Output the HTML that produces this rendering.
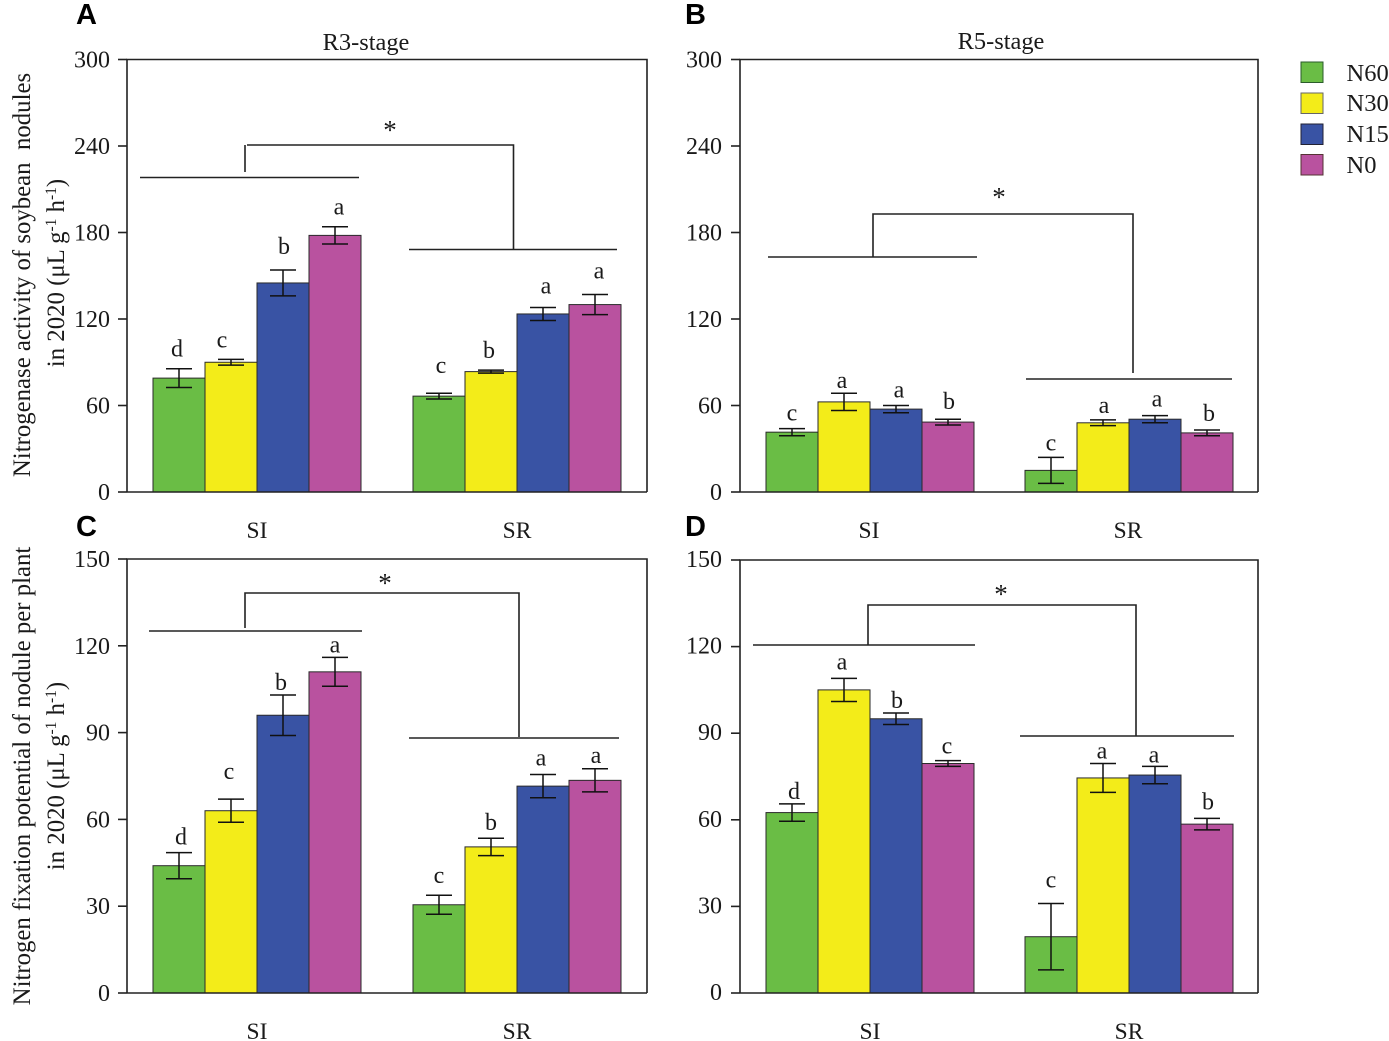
<!DOCTYPE html>
<html>
<head>
<meta charset="utf-8">
<title>Nitrogenase activity and nitrogen fixation potential</title>
<style>
html,body{margin:0;padding:0;background:#fff;}
svg{display:block;font-family:"Liberation Serif",serif;fill:#1a1a1a;}
.panel-letter{font-family:"Liberation Sans",sans-serif;font-weight:700;font-size:29px;fill:#000;}
.tick{font-size:24px;text-anchor:end;}
.cat{font-size:23.5px;text-anchor:middle;}
.ttl{font-size:24.4px;text-anchor:middle;}
.ylab{font-size:24.8px;text-anchor:middle;}
.ltr{font-size:24px;text-anchor:middle;}
.ast{font-size:27px;text-anchor:middle;}
.leg{font-size:24.5px;}
.br{stroke:#222;stroke-width:1.6;fill:none;}
</style>
</head>
<body>
<svg id="chart" xmlns="http://www.w3.org/2000/svg" width="1389" height="1041" viewBox="0 0 1389 1041">
  <text class="panel-letter" x="76" y="24">A</text>
  <text class="panel-letter" x="685" y="24">B</text>
  <text class="panel-letter" x="76" y="536">C</text>
  <text class="panel-letter" x="685" y="536">D</text>

  <text class="ttl" x="366" y="50">R3-stage</text>
  <text class="ttl" x="1001" y="49">R5-stage</text>

  <text class="ylab" transform="translate(30 275) rotate(-90)" xml:space="preserve">Nitrogenase activity of soybean  nodules</text>
  <text class="ylab" transform="translate(64 273) rotate(-90)">in 2020 (μL g<tspan font-size="15.5" dy="-8">-1</tspan><tspan dy="8"> h</tspan><tspan font-size="15.5" dy="-8">-1</tspan><tspan dy="8">)</tspan></text>
  <text class="ylab" transform="translate(30 776) rotate(-90)">Nitrogen fixation potential of nodule per plant</text>
  <text class="ylab" transform="translate(64 776) rotate(-90)">in 2020 (μL g<tspan font-size="15.5" dy="-8">-1</tspan><tspan dy="8"> h</tspan><tspan font-size="15.5" dy="-8">-1</tspan><tspan dy="8">)</tspan></text>

  <g id="panels"></g>

  <g>
    <path class="br" d="M140 177.5H359M245 145V172M247 145H513.5V250M409 249.5H617"/>
    <text class="ast" x="390" y="139">*</text>
  </g>
  <g>
    <path class="br" d="M768 257H977M873 257V214H1133V373M1026 379H1232"/>
    <text class="ast" x="999" y="206">*</text>
  </g>
  <g>
    <path class="br" d="M149 631H362M245 628V593H519V737M409 738H619"/>
    <text class="ast" x="385" y="592">*</text>
  </g>
  <g>
    <path class="br" d="M753 645H975M868 645V605H1136V736M1020 736H1234"/>
    <text class="ast" x="1001" y="603">*</text>
  </g>

  <g>
    <g><rect x="1301" y="62" width="22" height="20.5" fill="#6abd45" stroke="#2b5c2b" stroke-width="1"/><text class="leg" x="1346.5" y="81">N60</text></g>
    <g><rect x="1301" y="93" width="22" height="20.5" fill="#f3ec19" stroke="#666" stroke-width="1"/><text class="leg" x="1346.5" y="111">N30</text></g>
    <g><rect x="1301" y="124" width="22" height="20.5" fill="#3953a4" stroke="#223" stroke-width="1"/><text class="leg" x="1346.5" y="142">N15</text></g>
    <g><rect x="1301" y="154.5" width="22" height="20.5" fill="#b9529f" stroke="#533" stroke-width="1"/><text class="leg" x="1346.5" y="173">N0</text></g>
  </g>
</svg>

<script>
// Categories
const groups = ['SI', 'SR'];
const treatments = ['N60', 'N30', 'N15', 'N0'];
const seriesColors = ['#6abd45', '#f3ec19', '#3953a4', '#b9529f'];

// Tick labels
const ticksTop = [0, 60, 120, 180, 240, 300];
const ticksBottom = [0, 30, 60, 90, 120, 150];

// Panel A: R3-stage nitrogenase activity (SI x4, SR x4)
const valuesA = [79, 90, 145, 178, 66.5, 83.5, 123.5, 130];
const errorsA = [6.5, 2, 9, 6, 2, 1, 4.5, 7];
const lettersA = ['d', 'c', 'b', 'a', 'c', 'b', 'a', 'a'];

// Panel B: R5-stage nitrogenase activity
const valuesB = [41.5, 62.5, 57.5, 48.5, 15, 48, 50.5, 41];
const errorsB = [2.5, 6, 2.5, 2, 9, 2, 2.5, 2];
const lettersB = ['c', 'a', 'a', 'b', 'c', 'a', 'a', 'b'];

// Panel C: R3-stage nitrogen fixation potential
const valuesC = [44, 63, 96, 111, 30.5, 50.5, 71.5, 73.5];
const errorsC = [4.5, 4, 7, 5, 3.3, 3, 4, 4];
const lettersC = ['d', 'c', 'b', 'a', 'c', 'b', 'a', 'a'];

// Panel D: R5-stage nitrogen fixation potential
const valuesD = [62.5, 105, 95, 79.5, 19.5, 74.5, 75.5, 58.5];
const errorsD = [3, 4, 2, 1, 11.5, 5, 3, 2];
const lettersD = ['d', 'a', 'b', 'c', 'c', 'a', 'a', 'b'];

const svgNS = 'http://www.w3.org/2000/svg';
const root = document.getElementById('panels');

function mk(tag, attrs, parent) {
  const e = document.createElementNS(svgNS, tag);
  for (const k in attrs) e.setAttribute(k, attrs[k]);
  parent.appendChild(e);
  return e;
}

function drawPanel(p) {
  const g = mk('g', {}, root);
  
  

  const yMax = p.ticks[p.ticks.length - 1];
  const yScale = v => p.bottom - (v / yMax) * (p.bottom - p.top);
  const barW = p.barW;
  const groupStart = i => p.left + 26 + i * p.groupStep;
  const barX = (gi, si) => groupStart(gi) + si * barW;

  // bars
  p.values.forEach((v, idx) => {
    const gi = Math.floor(idx / treatments.length);
    const si = idx % treatments.length;
    const x = barX(gi, si);
    const y = yScale(v);
    const bar = mk('rect', { x: x, y: y, width: barW, height: p.bottom - y, fill: seriesColors[si], stroke: '#2a2a2a', 'stroke-width': 1 }, g);
    
    
  });

  // error bars and letters
  p.values.forEach((v, idx) => {
    const gi = Math.floor(idx / treatments.length);
    const si = idx % treatments.length;
    const cx = barX(gi, si) + barW / 2;
    const e = p.errors[idx];
    const yHi = yScale(v + e);
    const yLo = yScale(v - e);
    const err = mk('path', { d: 'M' + (cx - 13) + ' ' + yHi + 'H' + (cx + 13) + 'M' + cx + ' ' + yHi + 'V' + yLo + 'M' + (cx - 13) + ' ' + yLo + 'H' + (cx + 13), stroke: '#111', 'stroke-width': 1.5, fill: 'none' }, g);
    
    
    const t = mk('text', { class: 'ltr', x: cx + p.letterDx[idx], y: yHi - p.letterGap[idx] }, g);
    t.textContent = p.letters[idx];
    
    
  });

  // frame
  const frame = mk('path', { d: 'M' + p.left + ' ' + p.bottom + 'V' + p.top + 'H' + p.right + 'V' + p.bottom + 'M' + p.left + ' ' + p.bottom + 'H' + p.right, stroke: '#222', 'stroke-width': 1.6, fill: 'none' }, g);
  
  

  // y ticks
  p.ticks.forEach(tv => {
    const y = yScale(tv);
    const tick = mk('line', { x1: p.left - 9, x2: p.left, y1: y, y2: y, stroke: '#222', 'stroke-width': 1.6 }, g);
    
    
    const lab = mk('text', { class: 'tick', x: p.left - p.tickGap, y: y + p.tickDy }, g);
    lab.textContent = tv;
    
    
  });

  // x labels
  groups.forEach((name, gi) => {
    const cx = groupStart(gi) + barW * treatments.length / 2;
    const lab = mk('text', { class: 'cat', x: cx + p.catDx, y: p.catY }, g);
    lab.textContent = name;
    
    
  });
}

drawPanel({ id: 'a', left: 127, right: 647, top: 59.5, bottom: 492, groupStep: 260, barW: 52, catDx: 0, catY: 538, tickGap: 17, tickDy: 8,
  ticks: ticksTop, values: valuesA, errors: errorsA, letters: lettersA,
  letterDx: [-2, -9, 1, 4, 2, -2, 3, 4], letterGap: [12, 12, 16, 12, 20, 12, 14, 16] });
drawPanel({ id: 'b', left: 740, right: 1258, top: 59.5, bottom: 492, groupStep: 259, barW: 52, catDx: -1, catY: 538, tickGap: 18, tickDy: 8,
  ticks: ticksTop, values: valuesB, errors: errorsB, letters: lettersB,
  letterDx: [0, -2, 3, 1, 0, 1, 2, 2], letterGap: [8, 5, 8, 10, 7, 7, 9, 9] });
drawPanel({ id: 'c', left: 127, right: 647, top: 559, bottom: 993, groupStep: 260, barW: 52, catDx: 0, catY: 1039, tickGap: 17, tickDy: 8,
  ticks: ticksBottom, values: valuesC, errors: errorsC, letters: lettersC,
  letterDx: [2, -2, -2, 0, 0, 0, -2, 1], letterGap: [8, 20, 5, 5, 12, 8, 9, 6] });
drawPanel({ id: 'd', left: 740, right: 1258, top: 560, bottom: 993, groupStep: 259, barW: 52, catDx: 0, catY: 1039, tickGap: 18, tickDy: 7,
  ticks: ticksBottom, values: valuesD, errors: errorsD, letters: lettersD,
  letterDx: [2, -2, 1, -1, 0, -1, -1, 1], letterGap: [5, 9, 5, 7, 16, 5, 4, 9] });
</script>
</body>
</html>
